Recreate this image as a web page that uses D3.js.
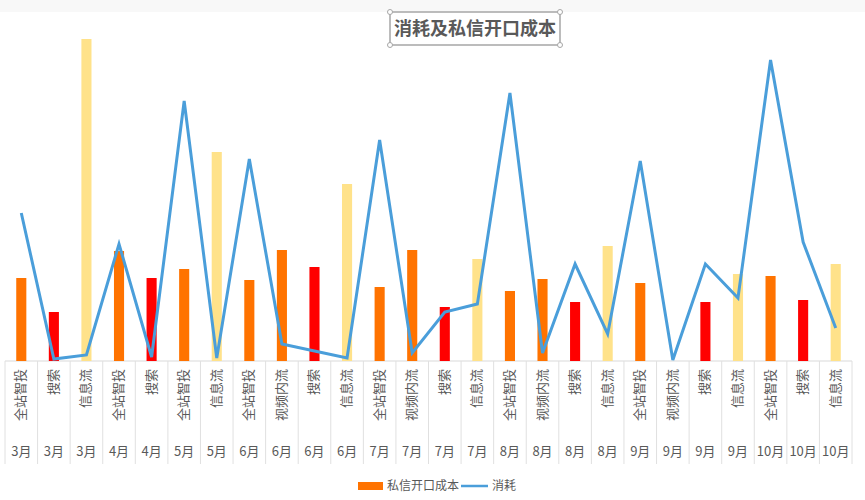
<!DOCTYPE html>
<html>
<head>
<meta charset="utf-8">
<script src="https://cdn.jsdelivr.net/npm/d3@7"></script>
<style>
  body { margin: 0; background: #fff; }
  text { font-family: "Noto Sans CJK SC", "Noto Sans", sans-serif; }
</style>
</head>
<body>
<div id="chart"></div>
<script>
// podaci
const months = ["3月","3月","3月","4月","4月","5月","5月","6月","6月","6月","6月","7月","7月","7月","7月","8月","8月","8月","8月","9月","9月","9月","9月","10月","10月","10月"];
const channels = ["全站智投","搜索","信息流","全站智投","搜索","全站智投","信息流","全站智投","视频内流","搜索","信息流","全站智投","视频内流","搜索","信息流","全站智投","视频内流","搜索","信息流","全站智投","视频内流","搜索","信息流","全站智投","搜索","信息流"];
const openCost = [83,49,322,110,83,92,209,81,111,94,177,74,111,54,102,70,82,59,115,78,0,59,87,85,61,97];
const spend = [148,2,6,117,4,260,3,202,17,10,3,221,8,49,57,268,8,97,27,200,1,97,63,301,119,33];

const channelColor = {
  "全站智投": "#FF7300",
  "视频内流": "#FF7300",
  "搜索": "#FF0000",
  "信息流": "#FFE28A"
};

const width = 865;
const height = 500;
const baseY = 361;

const svg = d3.select("#chart").append("svg")
  .attr("width", width)
  .attr("height", height);

// gornja siva traka
svg.append("rect")
  .attr("x", 0).attr("y", 0)
  .attr("width", width).attr("height", 12)
  .attr("fill", "#f8f8f8");

const idx = d3.range(months.length);

const x = d3.scaleBand()
  .domain(idx)
  .range([5, 852]);

const y = d3.scaleLinear()
  .domain([0, 330])
  .range([baseY, 31]);

// mreza kategorija
svg.append("line")
  .attr("x1", x.range()[0]).attr("x2", x.range()[1])
  .attr("y1", baseY).attr("y2", baseY)
  .attr("stroke", "#d9d9d9");

svg.selectAll(".sep")
  .data(d3.range(months.length + 1))
  .join("line")
  .attr("class", "sep")
  .attr("x1", d => x.range()[0] + d * x.step())
  .attr("x2", d => x.range()[0] + d * x.step())
  .attr("y1", baseY)
  .attr("y2", 464)
  .attr("stroke", "#e0e0e0");

// stupci
const barW = x.bandwidth() * 0.31;
svg.selectAll(".bar")
  .data(idx)
  .join("rect")
  .attr("class", "bar")
  .attr("x", i => x(i) + x.bandwidth() / 2 - barW / 2)
  .attr("y", i => y(openCost[i]))
  .attr("width", barW)
  .attr("height", i => baseY - y(openCost[i]))
  .attr("fill", i => channelColor[channels[i]]);

// linija
const line = d3.line()
  .x(i => x(i) + x.bandwidth() / 2)
  .y(i => y(spend[i]));

svg.append("path")
  .datum(idx)
  .attr("d", line)
  .attr("fill", "none")
  .attr("stroke", "#4A9EDA")
  .attr("stroke-width", 3)
  .attr("stroke-linejoin", "miter");

// oznake kanala (okomito)
svg.selectAll(".ch")
  .data(idx)
  .join("text")
  .attr("class", "ch")
  .attr("transform", i => `translate(${x(i) + x.bandwidth() / 2 + 4}, 369) rotate(-90)`)
  .attr("text-anchor", "end")
  .attr("font-size", "13px")
  .attr("fill", "#595959")
  .text(i => channels[i]);

svg.selectAll(".mo")
  .data(idx)
  .join("text")
  .attr("class", "mo")
  .attr("x", i => x(i) + x.bandwidth() / 2)
  .attr("y", 456)
  .attr("text-anchor", "middle")
  .attr("font-size", "13px")
  .attr("fill", "#595959")
  .text(i => months[i]);

// naslov
const title = svg.append("g");
title.append("rect")
  .attr("x", 390).attr("y", 12)
  .attr("width", 170).attr("height", 33)
  .attr("fill", "#fff")
  .attr("stroke", "#a6a6a6")
  .attr("stroke-width", 1.5);
title.append("text")
  .attr("x", 475).attr("y", 35)
  .attr("text-anchor", "middle")
  .attr("font-size", "18px")
  .attr("font-weight", "bold")
  .attr("fill", "#595959")
  .text("消耗及私信开口成本");
title.selectAll("circle")
  .data([[390, 12], [560, 12], [390, 45], [560, 45]])
  .join("circle")
  .attr("cx", d => d[0]).attr("cy", d => d[1])
  .attr("r", 2.5)
  .attr("fill", "#fff")
  .attr("stroke", "#a6a6a6");

// legenda
const legend = svg.append("g");
legend.append("rect")
  .attr("x", 358).attr("y", 482)
  .attr("width", 25).attr("height", 8)
  .attr("fill", "#FF7300");
legend.append("text")
  .attr("x", 387).attr("y", 490)
  .attr("font-size", "12px")
  .attr("fill", "#595959")
  .text("私信开口成本");
legend.append("line")
  .attr("x1", 461).attr("x2", 488)
  .attr("y1", 486).attr("y2", 486)
  .attr("stroke", "#4A9EDA")
  .attr("stroke-width", 2.5);
legend.append("text")
  .attr("x", 492).attr("y", 490)
  .attr("font-size", "12px")
  .attr("fill", "#595959")
  .text("消耗");
</script>
</body>
</html>
